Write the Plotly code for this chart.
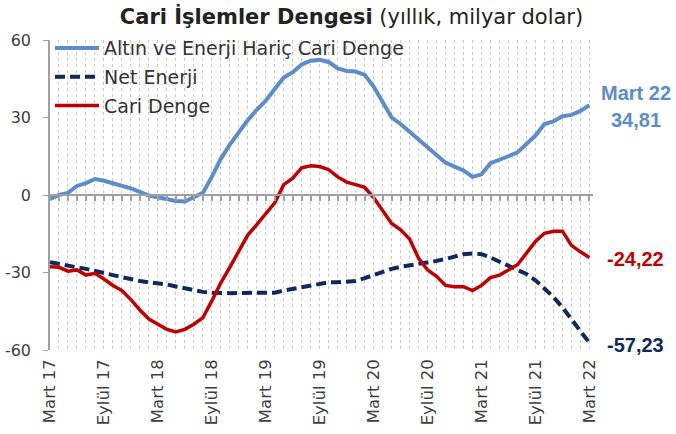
import plotly.graph_objects as go

months = list(range(61))
tick_pos = [0, 6, 12, 18, 24, 30, 36, 42, 48, 54, 60]
tick_labels = ["Mart 17", "Eylül 17", "Mart 18", "Eylül 18", "Mart 19", "Eylül 19",
               "Mart 20", "Eylül 20", "Mart 21", "Eylül 21", "Mart 22"]

altin_enerji_haric = [
    -1.5, 0.0, 0.8, 3.5, 4.6, 6.2, 5.5, 4.6, 3.8, 2.6,
    1.2, -0.2, -0.9, -1.6, -2.3, -2.5, -1.0, 0.8, 7.0, 14.0,
    19.5, 24.5, 29.0, 33.0, 36.5, 41.0, 45.5, 47.5, 50.5, 52.0,
    52.3, 51.5, 49.0, 48.0, 47.8, 46.5, 42.0, 36.0, 30.0, 27.5,
    24.5, 21.0, 18.5, 15.5, 12.5, 11.0, 9.5, 7.0, 8.0, 12.3,
    13.5, 15.0, 16.5, 20.0, 23.0, 27.5, 28.5, 30.5, 31.0, 32.5,
    34.81]

net_enerji = [
    -26.0, -26.8, -27.4, -28.0, -28.6, -29.3, -30.0, -31.0, -31.8, -32.7,
    -33.3, -33.8, -34.2, -34.6, -35.4, -36.2, -37.0, -37.5, -37.8, -38.0,
    -38.0, -37.9, -37.8, -37.8, -37.8, -37.8, -37.0, -36.3, -35.6, -35.0,
    -34.4, -33.8, -33.8, -33.7, -33.3, -32.2, -30.9, -29.6, -28.6, -27.8,
    -27.3, -26.6, -26.0, -25.5, -24.8, -23.8, -22.9, -22.6, -22.9, -24.2,
    -25.8, -27.0, -28.8, -30.6, -33.0, -36.0, -39.5, -43.5, -48.0, -52.5,
    -57.23]

cari_denge = [
    -27.8, -28.0, -29.5, -29.0, -31.0, -30.3, -32.5, -35.0, -37.0, -40.5,
    -44.5, -48.0, -50.0, -52.0, -53.0, -52.0, -50.0, -47.5, -41.0, -34.0,
    -28.0, -21.5, -15.5, -11.5, -7.5, -3.0, 4.0, 6.5, 10.5, 11.3,
    11.0, 9.8, 7.0, 5.0, 4.0, 3.0, -1.0, -6.0, -11.0, -13.5,
    -17.0, -24.5, -29.0, -31.5, -35.0, -35.5, -35.5, -37.0, -35.0, -32.0,
    -31.0, -29.0, -27.0, -22.5, -18.0, -14.8, -14.0, -14.0, -19.5, -22.0,
    -24.22]

BLUE = "#5B8CCB"
NAVY = "#0E2A5C"
RED = "#C00000"
FONT = "DejaVu Sans"
AFONT = "Liberation Sans"


def fmt(v):
    return f"{v:.2f}".replace(".", ",")


fig = go.Figure()
fig.add_trace(go.Scatter(x=months, y=altin_enerji_haric, mode="lines",
                         name="Altın ve Enerji Hariç Cari Denge", legendgroup="a",
                         line=dict(color=BLUE, width=4)))
fig.add_trace(go.Scatter(x=months, y=net_enerji, mode="lines", name="Net Enerji",
                         legendgroup="b",
                         line=dict(color=NAVY, width=4, dash="10px,5px")))
fig.add_trace(go.Scatter(x=months, y=cari_denge, mode="lines", name="Cari Denge",
                         legendgroup="c", xaxis="x2",
                         line=dict(color=RED, width=3.5)))

last = months[-1]
fig.add_annotation(x=last, y=altin_enerji_haric[-1], xref="x", yref="y",
                   text="<b>Mart 22</b>", showarrow=False,
                   xanchor="center", xshift=47, yshift=12,
                   font=dict(family=AFONT, size=20, color=BLUE))
fig.add_annotation(x=last, y=altin_enerji_haric[-1], xref="x", yref="y",
                   text="<b>%s</b>" % fmt(altin_enerji_haric[-1]), showarrow=False,
                   xanchor="center", xshift=47, yshift=-15,
                   font=dict(family=AFONT, size=20, color=BLUE))
fig.add_annotation(x=last, y=cari_denge[-1], xref="x", yref="y",
                   text="<b>%s</b>" % fmt(cari_denge[-1]),
                   showarrow=False, xanchor="left", xshift=16, yshift=-1,
                   font=dict(family=AFONT, size=20, color=RED))
fig.add_annotation(x=last, y=net_enerji[-1], xref="x", yref="y",
                   text="<b>%s</b>" % fmt(net_enerji[-1]),
                   showarrow=False, xanchor="left", xshift=16, yshift=-2,
                   font=dict(family=AFONT, size=20, color=NAVY))

fig.update_layout(
    width=676, height=434,
    margin=dict(l=50, r=83, t=40, b=84),
    paper_bgcolor="white", plot_bgcolor="white",
    font=dict(family=FONT, color="#404040"),
    title=dict(text="<b>Cari İşlemler Dengesi</b> (yıllık, milyar dolar)",
               x=0.52, xanchor="center", y=0.962, yanchor="middle",
               font=dict(family=FONT, size=21, color="#222222")),
    showlegend=True,
    legend=dict(x=0.0, y=1.035, xanchor="left", yanchor="top",
                bgcolor="rgba(0,0,0,0)", font=dict(family=FONT, size=19, color="#333333"),
                itemwidth=44, tracegroupgap=1),
    xaxis=dict(range=[0, 60.4], tickmode="array", tickvals=tick_pos, ticktext=tick_labels,
               tickangle=-90, showline=False, ticks="", zeroline=False, automargin=False,
               showgrid=True, gridcolor="#C8C8C8", griddash="dot", gridwidth=1,
               minor=dict(dtick=1, tick0=0, showgrid=True, gridcolor="#C8C8C8",
                          griddash="dot", gridwidth=1),
               ticklabelstandoff=5,
               tickfont=dict(family=FONT, size=16.5, color="#404040")),
    xaxis2=dict(matches="x", overlaying="x", anchor="free", position=0.5,
                side="bottom", showline=True, linecolor="#A0A0A0", linewidth=2,
                ticks="outside", ticklen=5, tickcolor="#A0A0A0", tickwidth=1.5,
                tickmode="linear", tick0=0, dtick=1, showticklabels=False,
                showgrid=False, zeroline=False, automargin=False),
    yaxis=dict(range=[-60, 60], tickvals=[-60, -30, 0, 30, 60],
               ticktext=["-60", "-30", "0", "30", "60"],
               showline=True, linecolor="#A0A0A0", linewidth=1.5,
               ticks="outside", ticklen=5, tickcolor="#A0A0A0",
               showgrid=False, zeroline=False, automargin=False,
               ticklabelstandoff=9,
               tickfont=dict(family=FONT, size=16, color="#404040")),
)

fig.write_html("out.html", config={"displayModeBar": False},
               post_script="document.body.style.margin='0';")
